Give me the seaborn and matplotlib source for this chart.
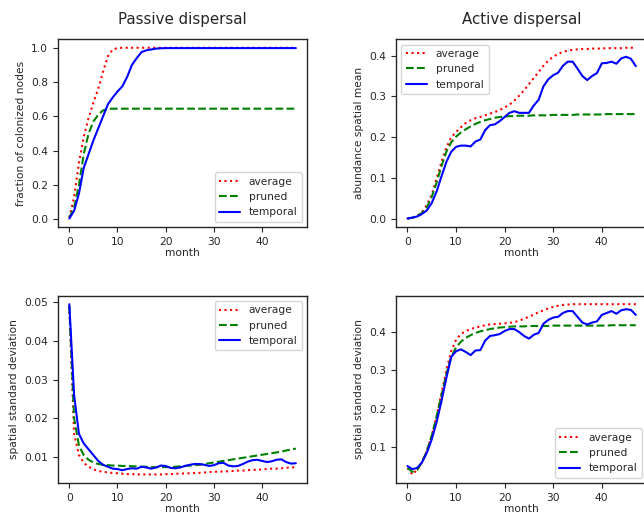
import numpy as np
import pandas as pd
import seaborn as sns
import matplotlib
matplotlib.use("Agg")
import matplotlib.pyplot as plt

# ==========================
# data
# ==========================
months = list(range(48))
series_names = ["average", "pruned", "temporal"]

# passive dispersal: fraction of colonized nodes
avg_col = [0.01, 0.13, 0.33, 0.48, 0.59, 0.68, 0.76, 0.86, 0.95, 0.99,
           0.998, 1.0, 1.0, 1.0, 1.0, 1.0, 1.0, 1.0, 1.0, 1.0,
           1.0, 1.0, 1.0, 1.0, 1.0, 1.0, 1.0, 1.0, 1.0, 1.0,
           1.0, 1.0, 1.0, 1.0, 1.0, 1.0, 1.0, 1.0, 1.0, 1.0,
           1.0, 1.0, 1.0, 1.0, 1.0, 1.0, 1.0, 1.0]
pru_col = [0.01, 0.07, 0.20, 0.38, 0.50, 0.57, 0.61, 0.635, 0.643, 0.645,
           0.645, 0.645, 0.645, 0.645, 0.645, 0.645, 0.645, 0.645, 0.645, 0.645,
           0.645, 0.645, 0.645, 0.645, 0.645, 0.645, 0.645, 0.645, 0.645, 0.645,
           0.645, 0.645, 0.645, 0.645, 0.645, 0.645, 0.645, 0.645, 0.645, 0.645,
           0.645, 0.645, 0.645, 0.645, 0.645, 0.645, 0.645, 0.645]
tmp_col = [0.005, 0.05, 0.15, 0.30, 0.38, 0.46, 0.53, 0.60, 0.67, 0.71,
           0.745, 0.775, 0.83, 0.90, 0.94, 0.975, 0.985, 0.99, 0.995, 0.997,
           0.998, 0.998, 0.998, 0.998, 0.998, 0.998, 0.998, 0.998, 0.998, 0.998,
           0.998, 0.998, 0.998, 0.998, 0.998, 0.998, 0.998, 0.998, 0.998, 0.998,
           0.998, 0.998, 0.998, 0.998, 0.998, 0.998, 0.998, 0.998]

# active dispersal: abundance spatial mean
avg_ab = [0.002, 0.004, 0.008, 0.018, 0.035, 0.06, 0.10, 0.14, 0.175, 0.20,
          0.213, 0.225, 0.235, 0.242, 0.247, 0.25, 0.254, 0.258, 0.262, 0.267,
          0.273, 0.28, 0.29, 0.302, 0.315, 0.33, 0.345, 0.36, 0.375, 0.388,
          0.397, 0.404, 0.409, 0.412, 0.414, 0.415, 0.416, 0.416, 0.417, 0.417,
          0.417, 0.418, 0.418, 0.418, 0.418, 0.419, 0.419, 0.419]
pru_ab = [0.002, 0.004, 0.008, 0.016, 0.03, 0.055, 0.09, 0.13, 0.165, 0.188,
          0.202, 0.212, 0.22, 0.227, 0.233, 0.238, 0.242, 0.245, 0.248, 0.25,
          0.251, 0.252, 0.252, 0.253, 0.253, 0.253, 0.254, 0.254, 0.254, 0.254,
          0.255, 0.255, 0.255, 0.255, 0.255, 0.256, 0.256, 0.256, 0.256, 0.256,
          0.256, 0.257, 0.257, 0.257, 0.257, 0.257, 0.257, 0.257]
tmp_ab = [0.002, 0.004, 0.007, 0.013, 0.022, 0.04, 0.068, 0.105, 0.14, 0.165,
          0.177, 0.18, 0.18, 0.178, 0.19, 0.195, 0.218, 0.23, 0.232, 0.24,
          0.25, 0.26, 0.264, 0.26, 0.26, 0.26, 0.278, 0.292, 0.325, 0.342,
          0.352, 0.358, 0.375, 0.385, 0.385, 0.368, 0.35, 0.34, 0.35, 0.357,
          0.381, 0.382, 0.385, 0.38, 0.393, 0.397, 0.392, 0.374]

# passive dispersal: spatial standard deviation
avg_sd = [0.049, 0.016, 0.0105, 0.0085, 0.0075, 0.0068, 0.0064, 0.0062, 0.006, 0.0059,
          0.0058, 0.0057, 0.0056, 0.0056, 0.0055, 0.0055, 0.0055, 0.0055, 0.0055, 0.0055,
          0.0056, 0.0056, 0.0057, 0.0057, 0.0058, 0.0058, 0.0059, 0.0059, 0.006, 0.0061,
          0.0062, 0.0062, 0.0063, 0.0063, 0.0064, 0.0065, 0.0065, 0.0066, 0.0067, 0.0067,
          0.0068, 0.0069, 0.007, 0.007, 0.0071, 0.0072, 0.0073, 0.0074]
pru_sd = [0.049, 0.02, 0.013, 0.0105, 0.0093, 0.0086, 0.0082, 0.008, 0.0079, 0.0078,
          0.0078, 0.0077, 0.0077, 0.0076, 0.0076, 0.0075, 0.0075, 0.0074, 0.0074, 0.0074,
          0.0074, 0.0074, 0.0075, 0.0076, 0.0077, 0.0078, 0.0079, 0.008, 0.0082, 0.0084,
          0.0086, 0.0088, 0.009, 0.0092, 0.0094, 0.0096, 0.0098, 0.01, 0.0102, 0.0104,
          0.0106, 0.0108, 0.011, 0.0112, 0.0114, 0.0117, 0.0119, 0.0122]
tmp_sd = [0.0495, 0.026, 0.016, 0.0135, 0.012, 0.0105, 0.009, 0.008, 0.0075, 0.007,
          0.0069, 0.0066, 0.0069, 0.0071, 0.007, 0.0075, 0.0073, 0.007, 0.0073, 0.0078,
          0.0077, 0.0072, 0.0071, 0.0073, 0.0077, 0.008, 0.0082, 0.0082, 0.008, 0.0077,
          0.0079, 0.0084, 0.0085, 0.0078, 0.0076, 0.0077, 0.0082, 0.0088, 0.0092, 0.0093,
          0.009, 0.0087, 0.0089, 0.0093, 0.0094, 0.0087, 0.0083, 0.0084]

# active dispersal: spatial standard deviation
avg_asd = [0.045, 0.028, 0.04, 0.06, 0.09, 0.13, 0.18, 0.24, 0.30, 0.35,
           0.38, 0.395, 0.403, 0.408, 0.412, 0.415, 0.418, 0.42, 0.421, 0.422,
           0.423, 0.424, 0.426, 0.43, 0.435, 0.44, 0.446, 0.452, 0.457, 0.462,
           0.466, 0.469, 0.471, 0.472, 0.473, 0.473, 0.473, 0.473, 0.473, 0.473,
           0.473, 0.473, 0.473, 0.473, 0.473, 0.473, 0.473, 0.473]
pru_asd = [0.045, 0.035, 0.04, 0.06, 0.09, 0.13, 0.18, 0.235, 0.29, 0.335,
           0.36, 0.375, 0.385, 0.392, 0.398, 0.402, 0.405, 0.408, 0.41, 0.412,
           0.413, 0.414, 0.415, 0.415, 0.415, 0.416, 0.416, 0.416, 0.416, 0.416,
           0.417, 0.417, 0.417, 0.417, 0.417, 0.417, 0.417, 0.417, 0.417, 0.417,
           0.417, 0.417, 0.418, 0.418, 0.418, 0.418, 0.418, 0.418]
tmp_asd = [0.05, 0.042, 0.045, 0.06, 0.085, 0.12, 0.165, 0.22, 0.28, 0.335,
           0.35, 0.355, 0.348, 0.34, 0.352, 0.353, 0.378, 0.39, 0.392, 0.395,
           0.403, 0.408, 0.408, 0.40, 0.39, 0.383, 0.393, 0.398, 0.422, 0.432,
           0.438, 0.44, 0.45, 0.455, 0.455, 0.44, 0.425, 0.42, 0.425, 0.428,
           0.445, 0.45, 0.455, 0.448, 0.457, 0.46, 0.458, 0.445]

# ==========================
# plotting
# ==========================
sns.set_style("ticks")
plt.rcParams["font.family"] = ["DejaVu Sans"]
FS = 7.7

styles = {"average": ("red", ":"), "pruned": ("green", "--"), "temporal": ("blue", "-")}

fig = plt.figure(figsize=(6.44, 5.16), dpi=100)
ax_tl = fig.add_axes([0.090, 0.560, 0.387, 0.364])
ax_tr = fig.add_axes([0.615, 0.560, 0.390, 0.364])
ax_bl = fig.add_axes([0.090, 0.064, 0.387, 0.363])
ax_br = fig.add_axes([0.615, 0.064, 0.390, 0.363])


def draw(ax, vals, ylabel, legend_loc):
    df = pd.DataFrame({"month": months})
    for name, v in zip(series_names, vals):
        df[name] = v
    for name in series_names:
        color, ls = styles[name]
        sns.lineplot(data=df, x="month", y=name, ax=ax, color=color,
                     linestyle=ls, linewidth=1.5, label=name)
    ax.set_xlabel("month", fontsize=FS, labelpad=1)
    ax.set_ylabel(ylabel, fontsize=FS)
    ax.tick_params(labelsize=FS, length=3.5)
    ax.set_xticks([0, 10, 20, 30, 40])
    for s in ax.spines.values():
        s.set_linewidth(1.0)
    ax.legend(loc=legend_loc, fontsize=FS, frameon=True)


draw(ax_tl, [avg_col, pru_col, tmp_col], "fraction of colonized nodes", "lower right")
draw(ax_tr, [avg_ab, pru_ab, tmp_ab], "abundance spatial mean", "upper left")
draw(ax_bl, [avg_sd, pru_sd, tmp_sd], "spatial standard deviation", "upper right")
draw(ax_br, [avg_asd, pru_asd, tmp_asd], "spatial standard deviation", "lower right")

ax_tl.set_yticks([0.0, 0.2, 0.4, 0.6, 0.8, 1.0])
ax_tr.set_yticks([0.0, 0.1, 0.2, 0.3, 0.4])
ax_bl.set_yticks([0.01, 0.02, 0.03, 0.04, 0.05])
ax_br.set_yticks([0.1, 0.2, 0.3, 0.4])

ax_tl.set_title("Passive dispersal", fontsize=10.8, pad=11)
ax_tr.set_title("Active dispersal", fontsize=10.8, pad=11)

fig.savefig("out.png", dpi=100)
